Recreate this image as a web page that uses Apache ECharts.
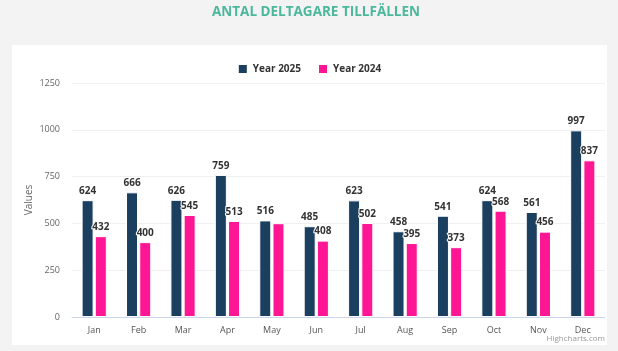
<!DOCTYPE html>
<html>
<head>
<meta charset="utf-8">
<script src="https://cdn.jsdelivr.net/npm/echarts@6/dist/echarts.min.js"></script>
<style>
html,body{margin:0;padding:0;background:#f3f3f3;}
#c{width:618px;height:351px;}
</style>
</head>
<body>
<div id="c"></div>
<script>
const months = ['Jan','Feb','Mar','Apr','May','Jun','Jul','Aug','Sep','Oct','Nov','Dec'];
const year2025 = [624,666,626,759,516,485,623,458,541,624,561,997];
const year2024 = [432,400,545,513,501,408,502,395,373,568,456,837];
const hiddenLabels2024 = ['May'];

const chart = echarts.init(document.getElementById('c'));
const labelStyle = {
  show: true, position: 'top', distance: 4,
  fontFamily: 'Open Sans', fontSize: 10, fontWeight: 'bold', color: '#333',
  textBorderColor: '#fff', textBorderWidth: 2
};
chart.setOption({
  backgroundColor: '#f3f3f3',
  animation: false,
  graphic: [
    {type: 'rect', shape: {x: 12, y: 45, width: 595, height: 300}, style: {fill: '#ffffff'}, z: -10},
    {type: 'text', right: 13, top: 335, style: {text: 'Highcharts.com', fontSize: 8, fontFamily: 'Open Sans', fill: '#999'}}
  ],
  title: {
    text: 'ANTAL DELTAGARE TILLFÄLLEN', left: 311, textAlign: 'center', top: 0,
    textStyle: {fontFamily: 'Open Sans', fontSize: 13.5, fontWeight: 'bold', color: '#4cb89b'}
  },
  legend: {
    top: 58, left: 'center', itemWidth: 10, itemHeight: 10, itemGap: 16,
    icon: 'rect',
    textStyle: {fontFamily: 'Open Sans', fontSize: 10, fontWeight: 'bold', color: '#333'}
  },
  grid: {left: 72, right: 13, top: 83, bottom: 34},
  xAxis: {
    type: 'category', data: months,
    axisLine: {lineStyle: {color: '#ccd6eb'}},
    axisTick: {show: false},
    axisLabel: {fontFamily: 'Open Sans', fontSize: 9, color: '#555', margin: 9}
  },
  yAxis: {
    type: 'value', min: 0, max: 1250, interval: 250,
    name: 'Values', nameLocation: 'middle', nameGap: 38, nameMoveOverlap: false,
    nameTextStyle: {fontFamily: 'Open Sans', fontSize: 10, color: '#666'},
    axisLabel: {fontFamily: 'Open Sans', fontSize: 9, color: '#666', margin: 12, formatter: v => String(v)},
    splitLine: {lineStyle: {color: '#eef0f3'}}
  },
  series: [
    {
      name: 'Year 2025', type: 'bar', data: year2025,
      barWidth: 12, barGap: '10%',
      itemStyle: {color: '#1b3f5e', borderColor: '#fff', borderWidth: 1},
      label: labelStyle
    },
    {
      name: 'Year 2024', type: 'bar',
      data: year2024.map((v, i) => hiddenLabels2024.includes(months[i]) ? {value: v, label: {show: false}} : v),
      barWidth: 12,
      itemStyle: {color: '#ff1694', borderColor: '#fff', borderWidth: 1},
      label: labelStyle
    }
  ]
});
</script>
</body>
</html>
